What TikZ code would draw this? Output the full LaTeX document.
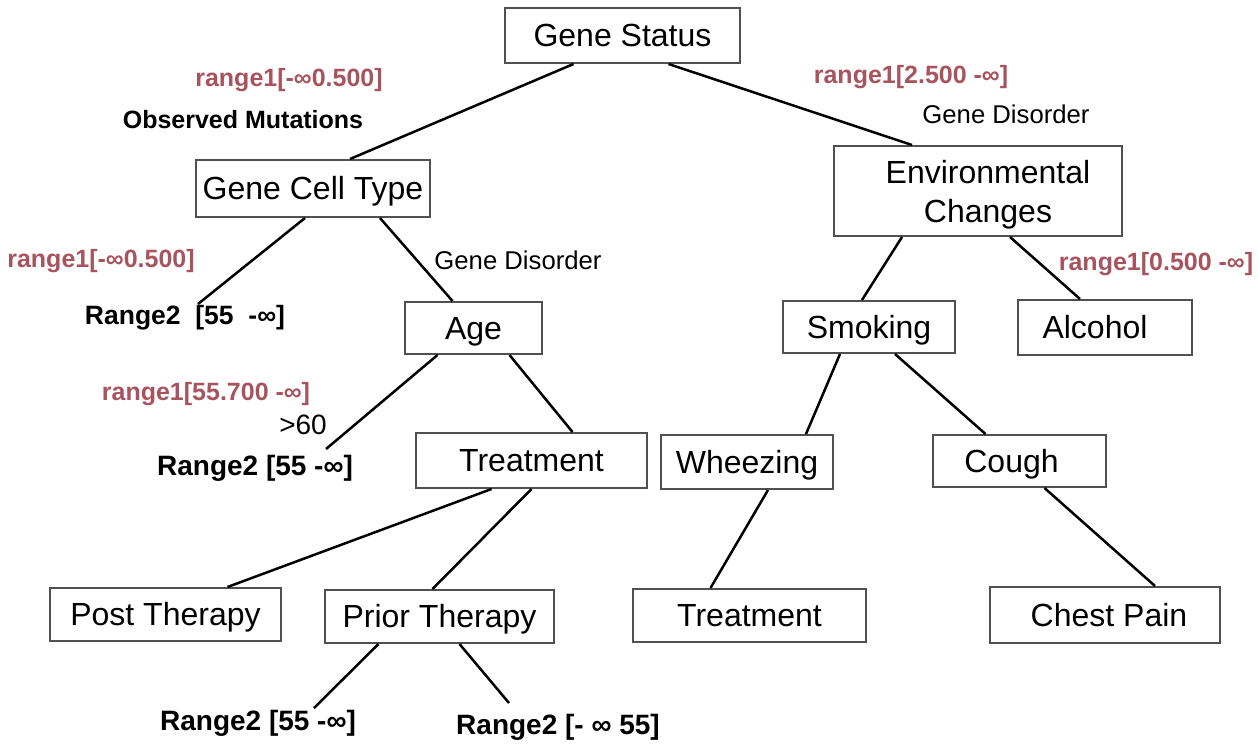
\documentclass[tikz,border=0pt]{standalone}
\usepackage{fontspec}
\setmainfont{Liberation Sans}
\definecolor{condred}{RGB}{168,84,94}
\definecolor{boxgray}{RGB}{80,80,80}
\tikzset{
  box/.style={draw=boxgray, line width=2pt, fill=white, inner sep=0pt,
    font=\fontsize{32}{39}\selectfont, text height=22pt, text depth=0pt},
  edge/.style={line width=2.5pt, black},
  cond/.style={text=condred, font=\fontsize{25}{29}\selectfont\bfseries, inner sep=0pt},
  note/.style={text=black, font=\fontsize{28}{32}\selectfont\bfseries, inner sep=0pt},
  plain/.style={text=black, font=\fontsize{25.7}{30}\selectfont, inner sep=0pt}
}
\begin{document}
\begin{tikzpicture}[x=1pt, y=-1pt]
\useasboundingbox (0,0) rectangle (1258,745);

% decision nodes
\node[box, minimum width=235pt, minimum height=55pt] (gs)  at (622.5,35.5) {Gene Status};
\node[box, minimum width=234pt, minimum height=57pt] (gct) at (313,188.5) {Gene Cell Type};
\node[box, minimum width=288pt, minimum height=90pt, text height=62.5pt] (env) at (978,191)
  {\hspace*{20pt}\vbox{\halign{\hfil#\hfil\cr Environmental\cr Changes\cr}}};
\node[box, minimum width=137pt, minimum height=52pt] (age) at (473.5,328) {Age};
\node[box, minimum width=172pt, minimum height=52pt] (smk) at (869,327) {Smoking};
\node[box, minimum width=174pt, minimum height=55pt] (alc) at (1105,327.5) {Alcohol\hspace*{20pt}};
\node[box, minimum width=231pt, minimum height=55pt] (trt) at (531.5,460.5) {Treatment};
\node[box, minimum width=172pt, minimum height=54pt] (whz) at (747,462) {Wheezing};
\node[box, minimum width=173pt, minimum height=52pt] (cgh) at (1019.5,461) {Cough\hspace*{16pt}};
\node[box, minimum width=231pt, minimum height=53pt] (pst) at (165.5,614.5) {Post Therapy};
\node[box, minimum width=229pt, minimum height=53pt] (pri) at (439.5,616.5) {Prior Therapy};
\node[box, minimum width=233pt, minimum height=53pt] (trt2) at (749.5,615.5) {Treatment};
\node[box, minimum width=230pt, minimum height=56pt] (chp) at (1105,615) {\hspace*{8pt}Chest Pain};

% open branch ends
\coordinate (e1) at (198,304);
\coordinate (e2) at (326,449);
\coordinate (e3) at (314,708);
\coordinate (e4) at (509,703);

% branches
\draw[edge] ([xshift=-49pt]gs.south) -- ([xshift=37pt]gct.north);
\draw[edge] ([xshift=46pt]gs.south) -- ([xshift=-66pt]env.north);
\draw[edge] ([xshift=-8pt]gct.south) -- (e1);
\draw[edge] ([xshift=67pt]gct.south) -- ([xshift=-21pt]age.north);
\draw[edge] ([xshift=-76pt]env.south) -- ([xshift=-7pt]smk.north);
\draw[edge] ([xshift=32pt]env.south) -- ([xshift=-25pt]alc.north);
\draw[edge] ([xshift=-36pt]age.south) -- (e2);
\draw[edge] ([xshift=36pt]age.south) -- ([xshift=41pt]trt.north);
\draw[edge] ([xshift=-29pt]smk.south) -- ([xshift=59pt]whz.north);
\draw[edge] ([xshift=26pt]smk.south) -- ([xshift=-34pt]cgh.north);
\draw[edge] ([xshift=-40pt]trt.south) -- ([xshift=62pt]pst.north);
\draw[edge] ([xshift=0pt]trt.south) -- ([xshift=-7pt]pri.north);
\draw[edge] ([xshift=21pt]whz.south) -- ([xshift=-39pt]trt2.north);
\draw[edge] ([xshift=25pt]cgh.south) -- ([xshift=50pt]chp.north);
\draw[edge] ([xshift=-61pt]pri.south) -- (e3);
\draw[edge] ([xshift=20pt]pri.south) -- (e4);

% branch labels
\node[cond] (l1) at (289,80) {range1[-∞0.500]};
\node[note, font=\fontsize{25}{29}\selectfont\bfseries] (l2) at (243,120) {Observed Mutations};
\node[cond] (l3) at (911,77) {range1[2.500 -∞]};
\node[plain] (l4) at (1006,114) {Gene Disorder};
\node[cond] (l5) at (101,261) {range1[-∞0.500]};
\node[plain] (l6) at (518,260) {Gene Disorder};
\node[note, font=\fontsize{26.5}{30}\selectfont\bfseries] (l7) at (185,318) {Range2\ \ [55\ \ -∞]};
\node[cond] (l8) at (1156,264) {range1[0.500 -∞]};
\node[cond] (l9) at (206,394) {range1[55.700 -∞]};
\node[plain, font=\fontsize{28}{32}\selectfont] (l10) at (303,425) {>60};
\node[note] (l11) at (255,468) {Range2 [55 -∞]};
\node[note] (l12) at (258,723) {Range2 [55 -∞]};
\node[note] (l13) at (558,727) {Range2 [- ∞ 55]};
\end{tikzpicture}
\end{document}
